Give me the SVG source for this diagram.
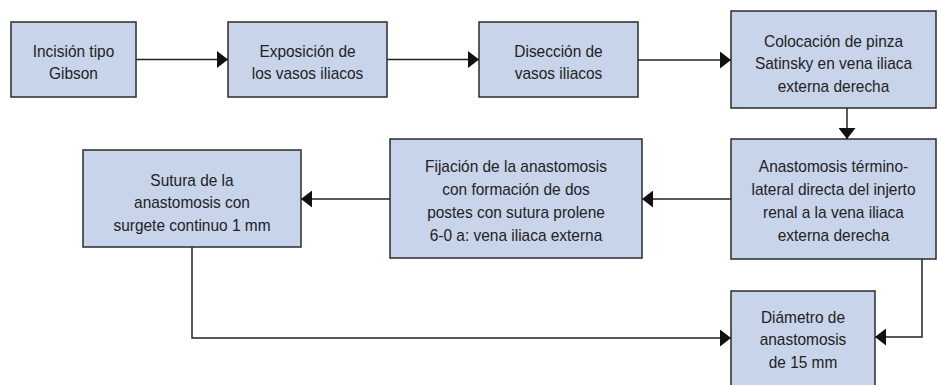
<svg xmlns="http://www.w3.org/2000/svg" width="937" height="385" viewBox="0 0 937 385">
<style>
.box{fill:#c7d4ea;stroke:#2b2b2b;stroke-width:1.5}
.t{font-family:"Liberation Sans",Arial,sans-serif;font-size:16.8px;fill:#222;text-anchor:middle}
.c{fill:none;stroke:#222;stroke-width:1.5}
</style>
<defs>
<marker id="ah" markerUnits="userSpaceOnUse" markerWidth="11" markerHeight="17" refX="11" refY="8.5" orient="auto">
<path d="M0,0 L11,8.5 L0,17 z" fill="#111"/>
</marker>
</defs>
<rect width="937" height="385" fill="#fff"/>
<g id="connectors">
<line class="c" x1="136" y1="59.5" x2="228" y2="59.5" marker-end="url(#ah)"/>
<line class="c" x1="387" y1="59.5" x2="479" y2="59.5" marker-end="url(#ah)"/>
<line class="c" x1="638" y1="60" x2="731" y2="60" marker-end="url(#ah)"/>
<line class="c" x1="847" y1="108" x2="847" y2="139" marker-end="url(#ah)"/>
<line class="c" x1="731" y1="199" x2="642" y2="199" marker-end="url(#ah)"/>
<line class="c" x1="390" y1="199" x2="301" y2="199" marker-end="url(#ah)"/>
<path class="c" d="M192,247 L192,338 L731,338" marker-end="url(#ah)"/>
<path class="c" d="M922,259 L922,337 L875,337" marker-end="url(#ah)"/>
</g>
<g id="n1">
<rect class="box" x="11" y="22" width="125" height="75"/>
<g transform="matrix(0.92 0 0 1 73.5 0)">
<text class="t" x="0" y="57">Incisión tipo</text>
<text class="t" x="0" y="79">Gibson</text>
</g>
</g>
<g id="n2">
<rect class="box" x="228" y="22" width="159" height="75"/>
<g transform="matrix(0.92 0 0 1 307.5 0)">
<text class="t" x="0" y="57">Exposición de</text>
<text class="t" x="0" y="79">los vasos iliacos</text>
</g>
</g>
<g id="n3">
<rect class="box" x="479" y="22" width="159" height="75"/>
<g transform="matrix(0.92 0 0 1 558.5 0)">
<text class="t" x="0" y="57">Disección de</text>
<text class="t" x="0" y="79">vasos iliacos</text>
</g>
</g>
<g id="n4">
<rect class="box" x="731" y="11" width="205" height="97"/>
<g transform="matrix(0.92 0 0 1 833.5 0)">
<text class="t" x="0" y="47">Colocación de pinza</text>
<text class="t" x="0" y="69.5">Satinsky en vena iliaca</text>
<text class="t" x="0" y="92">externa derecha</text>
</g>
</g>
<g id="n5">
<rect class="box" x="731" y="139" width="205" height="120"/>
<g transform="matrix(0.92 0 0 1 833.5 0)">
<text class="t" x="0" y="172">Anastomosis término-</text>
<text class="t" x="0" y="195">lateral directa del injerto</text>
<text class="t" x="0" y="218">renal a la vena iliaca</text>
<text class="t" x="0" y="241">externa derecha</text>
</g>
</g>
<g id="n6">
<rect class="box" x="390" y="139" width="252" height="119"/>
<g transform="matrix(0.92 0 0 1 516 0)">
<text class="t" x="0" y="172">Fijación de la anastomosis</text>
<text class="t" x="0" y="195">con formación de dos</text>
<text class="t" x="0" y="218">postes con sutura prolene</text>
<text class="t" x="0" y="241">6-0 a: vena iliaca externa</text>
</g>
</g>
<g id="n7">
<rect class="box" x="83" y="150" width="218" height="97"/>
<g transform="matrix(0.92 0 0 1 192 0)">
<text class="t" x="0" y="186">Sutura de la</text>
<text class="t" x="0" y="208.5">anastomosis con</text>
<text class="t" x="0" y="231">surgete continuo 1 mm</text>
</g>
</g>
<g id="n8">
<rect class="box" x="731" y="291" width="144" height="100"/>
<g transform="matrix(0.92 0 0 1 803 0)">
<text class="t" x="0" y="323">Diámetro de</text>
<text class="t" x="0" y="345.5">anastomosis</text>
<text class="t" x="0" y="368">de 15 mm</text>
</g>
</g>
</svg>
